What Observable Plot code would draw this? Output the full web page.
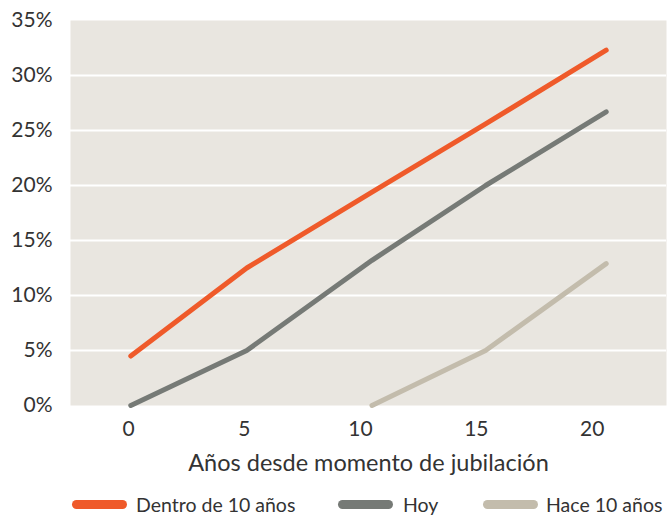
<!DOCTYPE html>
<html>
<head>
<meta charset="utf-8">
<script src="https://cdn.jsdelivr.net/npm/d3@7"></script>
<script src="https://cdn.jsdelivr.net/npm/@observablehq/plot@0.6"></script>
<style>
  html, body { margin: 0; padding: 0; background: #fff; }
  #wrap { position: relative; width: 668px; height: 518px; font-family: Lato, "Open Sans", sans-serif; color: #333; }
  #legend { position: absolute; left: 0; top: 492px; width: 668px; height: 26px; }
  .sw { position: absolute; top: 8px; width: 55px; height: 9px; border-radius: 4.5px; }
  .lt { position: absolute; top: 0; font-size: 19.5px; line-height: 26px; white-space: nowrap; }
</style>
</head>
<body>
<div id="wrap"><div id="chart"></div><div id="legend"></div></div>
<script>
// Data
const years = [0.1, 5.1, 10.5, 15.4, 20.6];
const dentro = [4.5, 12.5, 19.4, 25.6, 32.3];
const hoy = [0, 5, 13.2, 20, 26.7];
const hace = [null, null, 0, 5, 12.9];
const seriesNames = ["Dentro de 10 años", "Hoy", "Hace 10 años"];
const seriesColors = ["#ef5a2a", "#767a76", "#c3bcac"];
const xTicks = [0, 5, 10, 15, 20];
const yTicks = [0, 5, 10, 15, 20, 25, 30, 35];
const gridTicks = [5, 10, 15, 20, 25, 30];

const seriesValues = [dentro, hoy, hace];
const rows = [];
seriesValues.forEach((vals, si) => {
  vals.forEach((v, i) => {
    if (v != null) rows.push({series: seriesNames[si], x: years[i], y: v});
  });
});

const chart = Plot.plot({
  width: 668,
  height: 480,
  marginLeft: 70,
  marginRight: 2,
  marginTop: 20,
  marginBottom: 75,
  style: {fontFamily: "Lato, 'Open Sans', sans-serif", fontSize: "21px", color: "#333", background: "#fff"},
  x: {domain: [-2.5, 23.2]},
  y: {domain: [0, 35]},
  color: {domain: seriesNames, range: seriesColors},
  marks: [
    Plot.frame({fill: "#e9e6e0", stroke: null}),
    Plot.ruleY(gridTicks, {stroke: "#fff", strokeWidth: 2}),
    Plot.line(rows, {x: "x", y: "y", z: "series", stroke: "series", strokeWidth: 5, strokeLinecap: "round", strokeLinejoin: "round"}),
    Plot.axisY(yTicks, {tickSize: 0, tickPadding: 18, tickFormat: d => d + "%", label: null, fill: "#333"}),
    Plot.axisX(xTicks, {tickSize: 0, tickPadding: 16, tickFormat: d => String(d), label: null, fill: "#333"}),
    Plot.text(["Años desde momento de jubilación"], {frameAnchor: "bottom", dy: 58, text: d => d, fontSize: 23.5, fill: "#333", lineAnchor: "middle"})
  ]
});
document.getElementById("chart").appendChild(chart);

const legend = document.getElementById("legend");
const swLeft = [72, 338, 483];
const txLeft = [136, 403, 546];
seriesNames.forEach((name, i) => {
  const s = document.createElement("div");
  s.className = "sw";
  s.style.left = swLeft[i] + "px";
  s.style.background = seriesColors[i];
  legend.appendChild(s);
  const t = document.createElement("div");
  t.className = "lt";
  t.style.left = txLeft[i] + "px";
  t.textContent = name;
  legend.appendChild(t);
});
</script>
</body>
</html>
